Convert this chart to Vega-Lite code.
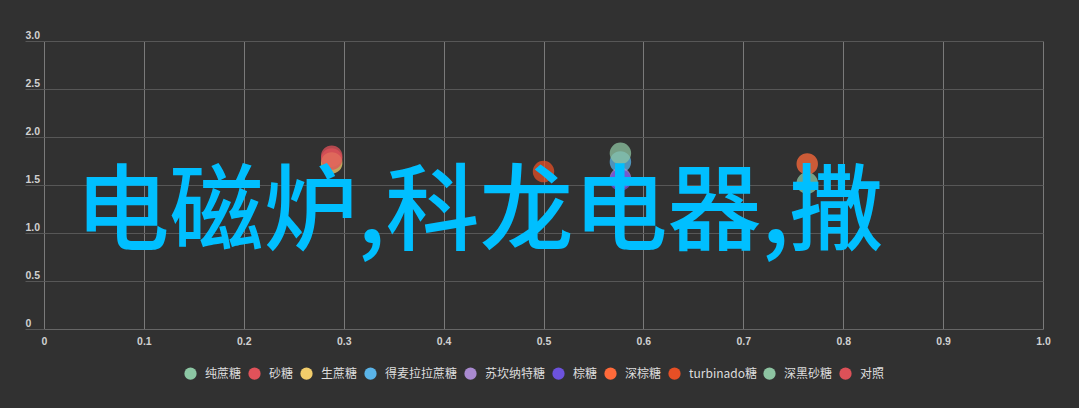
{
  "$schema": "https://vega.github.io/schema/vega-lite/v6.json",
  "width": 999,
  "height": 288,
  "autosize": {"type": "none"},
  "padding": {"left": 44, "top": 41, "right": 36, "bottom": 79},
  "background": "#313131",
  "config": {"view": {"stroke": null}, "font": "Liberation Sans"},
  "layer": [
    {
      "data": {
        "values": [
          {"sugar": "纯蔗糖", "x": 0.764, "y": 1.52},
          {"sugar": "砂糖", "x": 0.288, "y": 1.8},
          {"sugar": "生蔗糖", "x": 0.288, "y": 1.73},
          {"sugar": "得麦拉拉蔗糖", "x": 0.577, "y": 1.74},
          {"sugar": "苏坎纳特糖", "x": 0.577, "y": 1.57},
          {"sugar": "棕糖", "x": 0.577, "y": 1.55},
          {"sugar": "深棕糖", "x": 0.764, "y": 1.72},
          {"sugar": "turbinado糖", "x": 0.5, "y": 1.64},
          {"sugar": "深黑砂糖", "x": 0.577, "y": 1.83},
          {"sugar": "对照", "x": 0.288, "y": 1.77}
        ]
      },
      "mark": {"type": "circle", "opacity": 0.75, "size": 460},
      "encoding": {
        "x": {
          "field": "x", "type": "quantitative",
          "scale": {"domain": [0, 1], "nice": false, "zero": false},
          "axis": {
            "title": null,
            "values": [0, 0.1, 0.2, 0.3, 0.4, 0.5, 0.6, 0.7, 0.8, 0.9, 1.0],
            "labelExpr": "datum.value == 0 ? '0' : format(datum.value, '.1f')",
            "grid": true, "gridColor": "#7a7a7a", "gridWidth": 1,
            "domain": true, "domainColor": "#666666",
            "ticks": false, "labelPadding": 7,
            "labelFlush": false, "labelOverlap": false,
            "labelFont": "Liberation Sans", "labelFontSize": 10.5, "labelFontWeight": "bold",
            "labelColor": "#d0d0d0"
          }
        },
        "y": {
          "field": "y", "type": "quantitative",
          "scale": {"domain": [0, 3], "nice": false, "zero": true},
          "axis": {
            "title": null,
            "values": [0, 0.5, 1, 1.5, 2, 2.5, 3],
            "labelExpr": "datum.value == 0 ? '0' : format(datum.value, '.1f')",
            "grid": true, "gridColor": "#575757",
            "domain": false,
            "ticks": true, "tickSize": 19, "tickColor": "#575757",
            "labelAlign": "left", "labelBaseline": "alphabetic", "labelPadding": 0, "labelOffset": -3,
            "labelFlush": false, "labelOverlap": false,
            "labelFont": "Liberation Sans", "labelFontSize": 10.5, "labelFontWeight": "bold",
            "labelColor": "#d0d0d0"
          }
        },
        "color": {
          "field": "sugar", "type": "nominal",
          "scale": {
            "domain": ["纯蔗糖", "砂糖", "生蔗糖", "得麦拉拉蔗糖", "苏坎纳特糖", "棕糖", "深棕糖", "turbinado糖", "深黑砂糖", "对照"],
            "range": ["#8cc7a4", "#e0525a", "#f2cd6b", "#5ab4e8", "#a98ad0", "#6c52dc", "#ff6a3a", "#e64f25", "#8dc4a2", "#dd5158"]
          },
          "legend": {
            "title": null, "orient": "none", "direction": "horizontal",
            "legendX": 140, "legendY": 326,
            "symbolType": "circle", "symbolSize": 150, "symbolOpacity": 1, "symbolStrokeWidth": 0,
            "labelFont": "Noto Sans CJK SC", "labelFontSize": 12, "labelColor": "#dddddd",
            "columnPadding": 6, "labelOffset": 8, "labelLimit": 300
          }
        }
      }
    },
    {
      "data": {"values": [{"label": "电磁炉,科龙电器,撒", "x": 0.436, "y": 1.19}]},
      "mark": {
        "type": "text", "font": "Noto Sans CJK SC", "fontSize": 94, "fontWeight": 500,
        "color": "#00bfff", "align": "center", "baseline": "middle"
      },
      "encoding": {
        "x": {"field": "x", "type": "quantitative"},
        "y": {"field": "y", "type": "quantitative"},
        "text": {"field": "label"}
      }
    }
  ]
}
